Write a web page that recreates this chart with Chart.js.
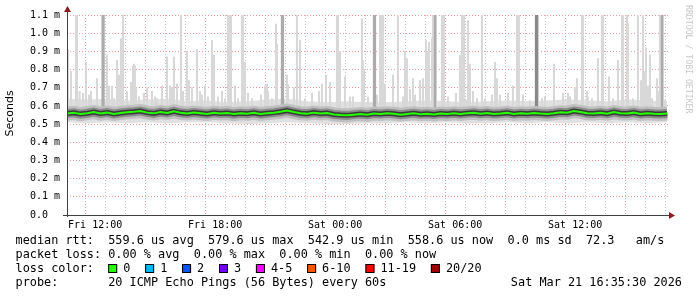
<!DOCTYPE html>
<html lang="en">
<head>
<meta charset="UTF-8">
<title>SmokePing latency</title>
<script src="https://cdn.jsdelivr.net/npm/chart.js"></script>
<style>
  body { margin: 0; background: #fff; }
  canvas { display: block; }
</style>
</head>
<body>
<canvas id="myChart" width="697" height="297"></canvas>
<script>
// time axis in hours since Fri 00:00
const startHour = 10.5917;   // Fri 10:35:30
const endHour = 40.7417;

// median rtt (ms), one reading every 20 minutes from 10.6 h
const medianStart = 10.6;
const medianStep = 1 / 3;
const medianRtt = [
  0.558, 0.562, 0.555, 0.560, 0.566, 0.558, 0.563, 0.556, 0.561, 0.565,
  0.568, 0.572, 0.563, 0.559, 0.566, 0.561, 0.570, 0.562, 0.558, 0.564,
  0.560, 0.556, 0.562, 0.558, 0.561, 0.555, 0.559, 0.557, 0.562, 0.556,
  0.560, 0.563, 0.568, 0.574, 0.566, 0.560, 0.557, 0.563, 0.558, 0.561,
  0.553, 0.550, 0.548, 0.552, 0.555, 0.551, 0.558, 0.556, 0.560, 0.557,
  0.552, 0.556, 0.559, 0.554, 0.557, 0.553, 0.558, 0.555, 0.560, 0.556,
  0.559, 0.562, 0.557, 0.561, 0.555, 0.558, 0.562, 0.556, 0.560, 0.557,
  0.561, 0.558, 0.556, 0.560, 0.565, 0.563, 0.572, 0.567, 0.560, 0.558,
  0.562, 0.557, 0.566, 0.560, 0.558, 0.563, 0.556, 0.560, 0.557, 0.555, 0.558
];

// outer smoke band, hourly from 10.6 h
const bandStart = 10.6;
const smokeHigh = [0.64, 0.635, 0.64, 0.63, 0.635, 0.64, 0.625, 0.63, 0.62, 0.625, 0.635, 0.64, 0.625, 0.62, 0.625, 0.62,
  0.62, 0.625, 0.63, 0.625, 0.62, 0.625, 0.63, 0.625, 0.63, 0.635, 0.63, 0.625, 0.635, 0.63, 0.625];
const smokeLow = [0.51, 0.505, 0.51, 0.505, 0.51, 0.505, 0.51, 0.51, 0.505, 0.5, 0.505, 0.51, 0.505, 0.5, 0.5, 0.505,
  0.505, 0.51, 0.505, 0.51, 0.505, 0.505, 0.51, 0.505, 0.51, 0.505, 0.51, 0.505, 0.51, 0.505, 0.51];

// slowest pings [hour, ms]
const spikesLight = [
  [10.64, 0.91], [10.79, 0.79], [11.04, 1.1], [11.09, 1.1], [11.22, 0.68], [11.39, 0.67], [11.54, 0.84], [11.69, 0.66],
  [11.79, 0.68], [12.09, 0.75], [12.59, 0.88], [12.69, 0.71], [12.84, 0.71], [12.94, 0.64], [13.09, 0.85], [13.19, 0.77],
  [13.29, 0.97], [13.39, 1.1], [13.59, 0.68], [13.79, 0.73], [13.89, 0.82], [13.94, 0.83], [13.99, 0.82], [14.04, 0.7],
  [14.19, 0.65], [14.44, 0.67], [14.59, 0.7], [14.84, 0.68], [14.99, 0.65], [15.09, 0.64], [15.34, 0.71], [15.59, 0.87],
  [15.74, 0.71], [15.84, 0.7], [15.94, 0.87], [16.09, 0.72], [16.29, 1.1], [16.39, 0.68], [16.59, 0.9], [16.69, 0.74],
  [16.84, 0.7], [17.09, 0.91], [17.24, 0.68], [17.34, 0.66], [17.49, 0.71], [17.64, 0.65], [17.84, 0.96], [17.94, 0.88],
  [18.14, 0.65], [18.34, 0.68], [18.49, 0.64], [18.64, 1.1], [18.69, 1.1], [18.74, 1.1], [18.79, 1.1], [18.99, 0.71],
  [19.14, 0.64], [19.34, 1.1], [19.39, 1.1], [19.49, 0.84], [19.64, 0.67], [19.84, 0.64], [20.29, 0.66], [20.49, 0.71],
  [20.59, 0.72], [20.64, 0.68], [20.84, 0.64], [21.04, 1.05], [21.09, 0.94], [21.59, 0.77], [21.64, 0.72], [21.94, 0.7],
  [22.09, 1.1], [22.24, 0.96], [22.49, 0.64], [22.84, 0.67], [23.19, 0.68], [23.34, 0.72], [23.54, 0.77], [23.74, 0.73],
  [24.09, 1.1], [24.14, 1.1], [24.24, 0.9], [24.49, 0.76], [24.74, 0.65], [24.89, 0.65], [25.34, 1.08], [25.39, 0.85],
  [25.44, 0.8], [25.64, 0.65], [26.09, 0.66], [26.24, 1.1], [26.29, 1.1], [26.34, 1.1], [26.39, 1.1], [26.49, 0.72],
  [26.89, 0.77], [27.14, 1.1], [27.39, 0.65], [27.49, 0.9], [27.59, 0.86], [27.74, 0.69], [27.89, 0.75], [27.99, 0.66],
  [28.24, 0.74], [28.39, 0.75], [28.54, 0.96], [28.59, 0.9], [28.69, 0.95], [28.84, 0.97], [28.89, 1.1], [28.94, 1.1],
  [29.04, 1.1], [29.34, 1.1], [29.39, 1.1], [29.44, 1.1], [29.64, 0.65], [30.04, 0.67], [30.24, 0.88], [30.34, 1.1],
  [30.39, 1.1], [30.44, 1.1], [30.54, 0.63], [30.64, 1.07], [30.74, 0.83], [30.89, 0.68], [31.09, 0.64], [31.34, 1.1],
  [31.49, 0.64], [31.84, 0.66], [31.99, 0.84], [32.09, 0.75], [32.24, 0.66], [32.64, 0.67], [32.89, 0.71], [33.09, 1.1],
  [33.19, 1.1], [33.39, 0.66], [33.74, 0.63], [34.14, 1.1], [34.34, 0.64], [34.49, 0.65], [34.94, 0.83], [35.39, 0.67],
  [35.64, 0.67], [35.74, 0.65], [35.99, 0.7], [36.09, 0.75], [36.34, 1.1], [36.39, 1.1], [36.59, 0.68], [36.64, 0.65],
  [36.84, 0.64], [37.14, 0.86], [37.34, 1.1], [37.39, 1.1], [37.69, 0.76], [37.89, 0.64], [38.14, 0.85], [38.34, 1.1],
  [38.39, 1.1], [38.59, 1.1], [38.64, 1.05], [38.89, 0.64], [39.14, 1.1], [39.29, 0.74], [39.39, 1.1], [39.49, 0.79],
  [39.54, 0.92], [39.64, 0.71], [39.74, 0.88], [39.84, 0.64], [40.09, 0.75], [40.14, 0.68], [40.24, 1.1], [40.29, 1.1],
  [40.39, 1.1], [40.49, 0.63]
];
const spikesMid = [[12.37, 1.1], [12.42, 1.1], [21.34, 1.1], [21.39, 1.1], [25.94, 1.1], [25.99, 1.1], [28.99, 1.1], [40.34, 1.1]];
const spikesDark = [[34.04, 1.1], [34.09, 1.1]];

const xTickHours = [12, 18, 24, 30, 36];
const xTickLabels = ['Fri 12:00', 'Fri 18:00', 'Sat 00:00', 'Sat 06:00', 'Sat 12:00'];
const yTickLabels = ['0.0  ', '0.1 m', '0.2 m', '0.3 m', '0.4 m', '0.5 m', '0.6 m', '0.7 m', '0.8 m', '0.9 m', '1.0 m', '1.1 m'];

const lossLabels = ['0', '1', '2', '3', '4-5', '6-10', '11-19', '20/20'];
const lossColors = ['#26ff00', '#00b8ff', '#0059ff', '#7000ff', '#ff00ff', '#ff5500', '#ff0000', '#a10000'];

const legendLines = [
  'median rtt:  559.6 us avg  579.6 us max  542.9 us min  558.6 us now  0.0 ms sd  72.3   am/s',
  'packet loss: 0.00 % avg  0.00 % max  0.00 % min  0.00 % now',
  'loss color:',
  'probe:       20 ICMP Echo Pings (56 Bytes) every 60s'
];
const stampText = 'Sat Mar 21 16:35:30 2026';

const red = '#eea0a0';
const grey = '#c4c4c4';
const mono = '"DejaVu Sans Mono", monospace';

const medianPts = medianRtt.map((v, i) => ({ x: medianStart + i * medianStep, y: v }));
const spikeBars = list => list.map(([h, v]) => ({ x: h, y: [0.56, v] }));
const medianLayer = (width, color, order) => ({
  type: 'line', data: medianPts, borderColor: color, borderWidth: width,
  pointRadius: 0, fill: false, tension: 0, borderJoinStyle: 'miter', order: order
});

const decor = {
  id: 'decor',
  afterDraw(chart) {
    const c = chart.ctx;
    const a = chart.chartArea;
    c.save();
    // axes
    c.strokeStyle = '#404040';
    c.lineWidth = 1;
    c.beginPath();
    c.moveTo(a.left + 0.5, 10);
    c.lineTo(a.left + 0.5, a.bottom + 2);
    c.moveTo(a.left - 4, a.bottom + 0.5);
    c.lineTo(a.right + 1, a.bottom + 0.5);
    c.stroke();
    // arrows
    c.fillStyle = '#8c1c1c';
    c.beginPath();
    c.moveTo(a.left + 0.5, 6);
    c.lineTo(a.left - 3, 12);
    c.lineTo(a.left + 4, 12);
    c.closePath();
    c.fill();
    c.beginPath();
    c.moveTo(a.right + 5, a.bottom + 0.5);
    c.lineTo(a.right - 1, a.bottom - 3);
    c.lineTo(a.right - 1, a.bottom + 4);
    c.closePath();
    c.fill();
    // y title
    c.fillStyle = '#000';
    c.font = '11px "DejaVu Sans", sans-serif';
    c.textAlign = 'center';
    c.textBaseline = 'middle';
    c.save();
    c.translate(10.5, 113.5);
    c.rotate(-Math.PI / 2);
    c.fillText('Seconds', 0, 0);
    c.restore();
    // watermark
    c.save();
    c.fillStyle = '#c8c8c8';
    c.font = '8.2px ' + mono;
    c.textAlign = 'left';
    c.translate(688, 5);
    c.rotate(Math.PI / 2);
    c.fillText('RRDTOOL / TOBI OETIKER', 0, 0);
    c.restore();
    // legend
    c.font = '11.85px ' + mono;
    c.textAlign = 'left';
    c.fillStyle = '#000';
    const rows = [241, 255, 269, 282.5];
    legendLines.forEach((t, i) => c.fillText(t, 15.5, rows[i]));
    const cw = c.measureText('0').width;
    let bx = 15.5 + 13 * cw;
    lossLabels.forEach((lab, i) => {
      c.fillStyle = lossColors[i];
      c.fillRect(bx, 264, 9, 9);
      c.strokeStyle = '#000';
      c.strokeRect(bx + 0.5, 264.5, 8, 8);
      c.fillStyle = '#000';
      c.fillText(lab, bx + 15, rows[2]);
      bx += 15 + c.measureText(lab).width + 14.8;
    });
    c.textAlign = 'right';
    c.fillText(stampText, 682, rows[3]);
    c.restore();
  }
};

new Chart(document.getElementById('myChart'), {
  type: 'line',
  data: {
    datasets: [
      { type: 'line', data: smokeLow.map((v, i) => ({ x: bandStart + i, y: v })), borderWidth: 0, pointRadius: 0, fill: false, order: 20 },
      { type: 'line', data: smokeHigh.map((v, i) => ({ x: bandStart + i, y: v })), borderWidth: 0, pointRadius: 0,
        fill: '-1', backgroundColor: '#e0e0e0', order: 19 },
      { type: 'bar', data: spikeBars(spikesLight), backgroundColor: '#d8d8d8', barThickness: 1.4, grouped: false, order: 18 },
      { type: 'bar', data: spikeBars(spikesMid), backgroundColor: '#ababab', barThickness: 1.6, grouped: false, order: 17 },
      { type: 'bar', data: spikeBars(spikesDark), backgroundColor: '#8a8a8a', barThickness: 1.6, grouped: false, order: 16 },
      medianLayer(14, '#c0c0c0', 15),
      medianLayer(9, '#8c8c8c', 14),
      medianLayer(5, '#3a3a3a', 13),
      medianLayer(2, '#26ff00', 12)
    ]
  },
  options: {
    responsive: false,
    animation: false,
    events: [],
    layout: { padding: { left: 0, top: 15, right: 27, bottom: 0 } },
    plugins: { legend: { display: false }, tooltip: { enabled: false } },
    scales: {
      x: {
        type: 'linear',
        min: startHour,
        max: endHour,
        offset: false,
        afterFit: s => { s.height = 82; },
        afterBuildTicks: s => {
          const t = [];
          for (let h = Math.ceil(startHour); h <= Math.floor(endHour); h++) t.push({ value: h });
          s.ticks = t;
        },
        grid: {
          drawTicks: false,
          lineWidth: 1,
          color: ctx => (ctx.tick && ctx.tick.value % 3 === 0) ? red : grey
        },
        border: { display: false, dash: [1, 2] },
        ticks: {
          autoSkip: false,
          maxRotation: 0,
          padding: 4,
          color: '#000',
          font: { family: mono, size: 10 },
          callback: v => {
            const k = xTickHours.indexOf(v);
            return k >= 0 ? xTickLabels[k] : '';
          }
        }
      },
      y: {
        min: 0,
        max: 1.1,
        afterFit: s => { s.width = 67; },
        grid: { drawTicks: false, color: red, lineWidth: 1 },
        border: { display: false, dash: [1, 2] },
        ticks: {
          stepSize: 0.1,
          padding: 7,
          color: '#000',
          font: { family: mono, size: 10 },
          callback: (v, i) => yTickLabels[i]
        }
      }
    }
  },
  plugins: [decor]
});
</script>
</body>
</html>
